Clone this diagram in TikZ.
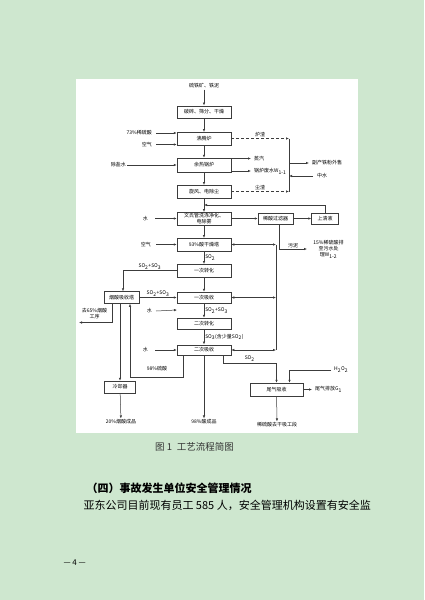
\documentclass[tikz,border=0pt]{standalone}
\usepackage{fontspec}
\setmainfont{Noto Sans CJK SC}
\usepackage{xcolor}
\usetikzlibrary{arrows.meta, positioning}
\definecolor{pagegreen}{RGB}{206,231,207}
\definecolor{inkgray}{RGB}{60,60,60}

\begin{document}
\begin{tikzpicture}[
    x=1pt, y=-1pt,
    unit/.style={
        rectangle, draw=inkgray, line width=0.5pt,
        minimum width=54pt, minimum height=12.5pt, inner sep=0pt,
        font=\fontsize{5}{5.6}\selectfont, align=center
    },
    arrow/.style={-{Latex[length=3pt,width=2.4pt]}, draw=inkgray, line width=0.5pt},
    dblarrow/.style={{Latex[length=3pt,width=2.4pt]}-{Latex[length=3pt,width=2.4pt]}, draw=inkgray, line width=0.5pt},
    slag/.style={arrow, dash pattern=on 3pt off 2pt},
    note/.style={font=\fontsize{5}{6}\selectfont, inner sep=1pt, align=center},
]

% page and figure area
\fill[pagegreen] (0,0) rectangle (424,600);
\fill[white] (76,79) rectangle (358,433);
\useasboundingbox (0,0) rectangle (424,600);

% main column
\node[note] (ore) at (204,86) {硫铁矿、铁泥};
\node[unit] (crush)   at (204,112)   {破碎、筛分、干燥};
\node[unit] (furnace) at (204,138.5) {沸腾炉};
\node[unit, minimum height=14pt] (boiler) at (204,165) {余热锅炉};
\node[unit] (dust)    at (204,191.5) {旋风、电除尘};
\node[unit] (wash)    at (204,218.5) {文氏管洗涤净化、\\电除雾};
\node[unit] (dry)     at (204,244.5) {93\%酸干燥塔};
\node[unit] (conv1)   at (204,270.5) {一次转化};
\node[unit, minimum height=11pt] (abs1)  at (204,297.5) {一次吸收};
\node[unit, minimum height=11pt] (conv2) at (204,323.5) {二次转化};
\node[unit, minimum height=10.5pt] (abs2) at (204,350) {二次吸收};

% side units
\node[unit, minimum width=35pt, minimum height=11pt] (filter) at (275.5,218.5) {稀酸过滤器};
\node[unit, minimum width=27pt, minimum height=11pt] (clear)  at (325,218.5)   {上清液};
\node[unit, minimum width=35pt, minimum height=12pt] (fuming) at (121.5,297.5) {烟酸吸收塔};
\node[unit, minimum width=31pt, minimum height=12pt] (cooler) at (120,387)     {冷却器};
\node[unit, minimum width=53pt, minimum height=13pt] (tail)   at (276.5,389.5) {尾气吸收};

% main flow
\foreach \a/\b in {ore/crush, crush/furnace, furnace/boiler, boiler/dust,
                   dust/wash, wash/dry, conv1/abs1}
    \draw[arrow] (\a) -- (\b);
\draw[arrow] (dry) -- node[note, right] {SO\textsubscript{2}} (conv1);
\draw[arrow] (abs1) -- node[note, right] {SO\textsubscript{2}+SO\textsubscript{3}} (conv2);
\draw[arrow] (conv2) -- node[note, right] {SO\textsubscript{3}(含少量SO\textsubscript{2})} (abs2);

% feeds from the left
\node[note, anchor=east] (acid73) at (153,133)   {73\%稀硫酸};
\node[note, anchor=east] (air1)   at (153,144.5) {空气};
\node[note, anchor=east] (desalt) at (127,165)   {除盐水};
\node[note, anchor=east] (water1) at (149,218.5) {水};
\node[note, anchor=east] (air2)   at (152,244.5) {空气};
\node[note, anchor=east] (water2) at (153,311)   {水};
\node[note, anchor=east] (water3) at (149,350)   {水};
\coordinate (w2in) at (177,310);
\draw[arrow] ([xshift=3pt]acid73.east) -- (acid73.east -| furnace.west);
\draw[arrow] ([xshift=3pt]air1.east) -- (air1.east -| furnace.west);
\draw[arrow] (desalt) -- (boiler);
\draw[arrow] ([xshift=6pt]water1.east) -- (wash);
\draw[arrow] ([xshift=4pt]air2.east) -- (dry);
\draw[arrow] ([xshift=3pt]water2.east) -- (w2in);
\draw[arrow] ([xshift=6pt]water3.east) -- (abs2);

% slag and boiler outputs
\coordinate (busT) at (289,138.5);
\coordinate (busB) at (289,191.5);
\draw[inkgray, line width=0.5pt] (busT) -- (busB);
\draw[slag] (furnace) -- node[note, above] {炉渣} (busT);
\draw[slag] (dust) -- node[note, above] {尘渣} (busB);
\node[note, anchor=west] (steam)    at (253,158.5) {蒸汽};
\node[note, anchor=west] (bwater)   at (253,171)   {锅炉废水W\textsubscript{1-1}};
\node[note, anchor=west] (ironsale) at (311,163)   {副产铁粉外售};
\node[note, anchor=west] (midwater) at (316,176)   {中水};
\draw[arrow] (boiler.east |- steam) -- ([xshift=-2pt]steam.west);
\draw[arrow] (boiler.east |- bwater) -- ([xshift=-2pt]bwater.west);
\draw[arrow] (busT |- ironsale) -- ([xshift=-2pt]ironsale.west);
\draw[arrow] ([xshift=-3pt]midwater.west) -- (busT |- midwater);

% washing loop
\coordinate (ret) at (204,205);
\draw[arrow] (wash) -- (filter);
\draw[arrow] (filter) -- (clear);
\draw[arrow] (clear.north) |- (ret);
\node[note] (sludge) at (328.5,249) {15\%稀硫酸排\\至污水处\\理W\textsubscript{1-2}};
\coordinate (sludgeEnd) at (307,249);
\draw[arrow] ([xshift=3.5pt]filter.south) |- node[note, above, pos=0.75] {污泥} (sludgeEnd);

% acid circulation
\coordinate (acidT) at (276,244.5);
\coordinate (acidB) at (276,350);
\draw[inkgray, line width=0.5pt] (acidT) -- (acidB);
\draw[dblarrow] (acidT) -- (dry);
\draw[dblarrow] (acidT |- abs1) -- (abs1);
\draw[dblarrow] (acidB) -- (abs2);

% fuming acid branch
\draw[arrow] (conv1.west) -| node[note, above, pos=0.25] {SO\textsubscript{2}+SO\textsubscript{3}} ([xshift=1.5pt]fuming.north);
\draw[arrow] (fuming) -- node[note, above] {SO\textsubscript{2}+SO\textsubscript{3}} (abs1);
\node[note] (toOleum) at (94.5,313.5) {去65\%烟酸\\工序};
\coordinate (oleumEnd) at (79,322.5);
\draw[arrow] ([xshift=-9.5pt]fuming.south) |- (oleumEnd);
\draw[arrow] (fuming.south -| cooler) -- (cooler);
\node[note] (acid98) at (157,369) {98\%硫酸};
\coordinate (loopL) at (130,377);
\draw[arrow] ([xshift=-21pt]abs2.south) |- (loopL) -- (fuming.south -| loopL);

% products
\node[note] (prod20) at (121,422) {20\%烟酸成品};
\node[note] (prod98) at (204,422) {98\%酸成品};
\draw[arrow] (cooler) -- (prod20);
\draw[arrow] (abs2) -- (prod98);

% tail gas
\coordinate (so2turn) at (276.5,363);
\draw[arrow] ([xshift=19pt]abs2.south) |- node[note, above, pos=0.75] {SO\textsubscript{2}} (so2turn) -- (tail);
\node[note, anchor=west] (h2o2) at (333,370) {H\textsubscript{2}O\textsubscript{2}};
\draw[arrow] ([xshift=-2pt]h2o2.west) -| ([xshift=13pt]tail.north);
\node[note, anchor=west] (exhaust) at (314,389.5) {尾气排放G\textsubscript{1}};
\draw[arrow] (tail) -- ([xshift=-2pt]exhaust.west);
\node[note] (dilute) at (277,425) {稀硫酸去干吸工段};
\draw[arrow] (tail) -- (dilute);

% caption and page text
\node[font=\fontsize{9.5}{10}\selectfont, text=black!80] (caption) at (194.5,447) {图 1\hspace{0.5em}工艺流程简图};
\node[font=\fontsize{11}{12}\selectfont\bfseries, anchor=west] (sec) at (83,488) {（四）事故发生单位安全管理情况};
\node[font=\fontsize{11}{12}\selectfont, anchor=west] (para) at (80,505) {亚东公司目前现有员工 585 人，安全管理机构设置有安全监};
\node[font=\fontsize{8}{9}\selectfont, anchor=west] (pageno) at (60,563) {— 4 —};

\end{tikzpicture}
\end{document}
